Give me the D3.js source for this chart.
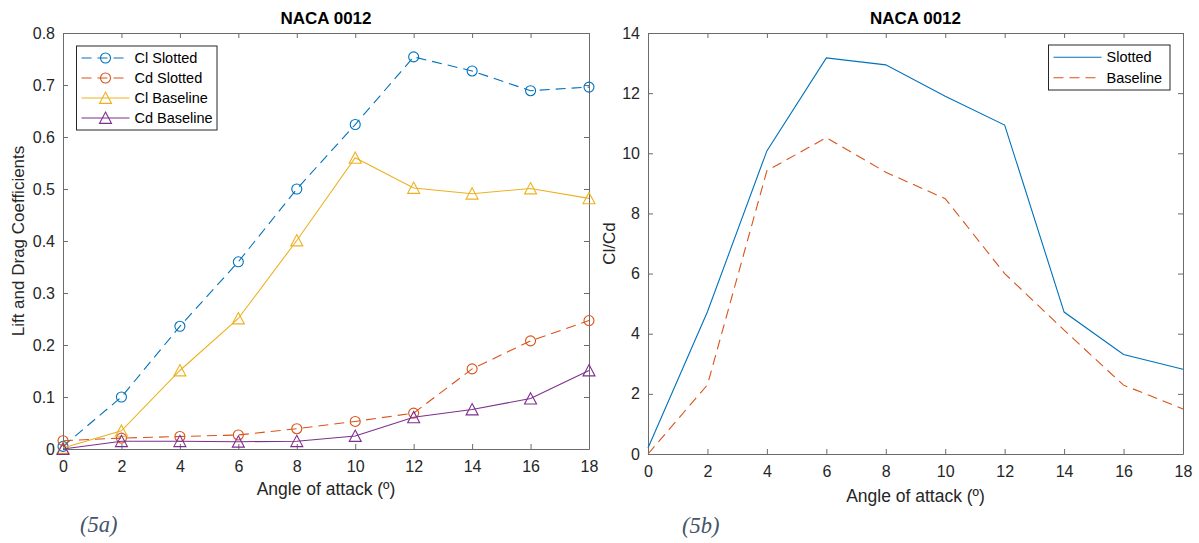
<!DOCTYPE html>
<html><head><meta charset="utf-8">
<script src="https://cdn.jsdelivr.net/npm/d3@7"></script>
<style>body{margin:0;background:#fff}svg{display:block}</style>
</head><body>
<svg id="c" width="1199" height="543"></svg>
<script>
const angles = [0,2,4,6,8,10,12,14,16,18];
const clSlotted   = [0.005,0.100,0.236,0.360,0.500,0.624,0.754,0.727,0.689,0.696];
const cdSlotted   = [0.016,0.021,0.024,0.027,0.039,0.053,0.069,0.154,0.208,0.247];
const clBaseline  = [0.002,0.035,0.151,0.251,0.401,0.560,0.502,0.491,0.501,0.482];
const cdBaseline  = [0.000,0.015,0.015,0.014,0.015,0.025,0.061,0.076,0.097,0.151];
const ldSlotted   = [0.2,4.73,10.08,13.17,12.94,11.9,10.94,4.72,3.31,2.82];
const ldBaseline  = [0.0,2.3,9.42,10.52,9.37,8.49,6.0,4.12,2.29,1.5];
const xTicks = [0,2,4,6,8,10,12,14,16,18];
const yTicksA = [0,0.1,0.2,0.3,0.4,0.5,0.6,0.7,0.8];
const yTicksB = [0,2,4,6,8,10,12,14];
const title = "NACA 0012";
const xLabel = "Angle of attack (º)";

const C = {blue:"#0072BD", orange:"#D95319", yellow:"#EDB120", purple:"#7E2F8E"};
const FONT = "'Liberation Sans', Arial, Helvetica, sans-serif";
const AX = "#6b6b6b";
const TXT = "#262626";
const svg = d3.select("#c");

function styleAxis(s, withText){
  s.select(".domain").attr("stroke",AX);
  s.selectAll("line").attr("stroke",AX);
  if(withText) s.selectAll("text").attr("font-family",FONT).attr("font-size",16).attr("fill",TXT);
}

function panel(o){
  const g = svg.append("g");
  const x = d3.scaleLinear().domain([0,18]).range([o.l,o.r]);
  const y = d3.scaleLinear().domain(o.ydom).range([o.b,o.t]);
  const tl = 5;
  g.append("g").attr("transform",`translate(0,${o.b})`)
    .call(d3.axisBottom(x).tickValues(xTicks).tickSizeInner(-tl).tickSizeOuter(0).tickPadding(12))
    .call(s=>styleAxis(s,true));
  g.append("g").attr("transform",`translate(${o.l},0)`)
    .call(d3.axisLeft(y).tickValues(o.yTicks).tickFormat(o.fmt).tickSizeInner(-tl).tickSizeOuter(0).tickPadding(8))
    .call(s=>styleAxis(s,true));
  g.append("g").attr("transform",`translate(0,${o.t})`)
    .call(d3.axisTop(x).tickValues(xTicks).tickFormat("").tickSizeInner(-tl).tickSizeOuter(0))
    .call(s=>styleAxis(s,false));
  g.append("g").attr("transform",`translate(${o.r},0)`)
    .call(d3.axisRight(y).tickValues(o.yTicks).tickFormat("").tickSizeInner(-tl).tickSizeOuter(0))
    .call(s=>styleAxis(s,false));
  g.append("text").attr("x",(o.l+o.r)/2).attr("y",o.t-9).attr("text-anchor","middle")
    .attr("font-family",FONT).attr("font-weight","bold").attr("font-size",17).attr("fill","#000").text(title);
  g.append("text").attr("x",(o.l+o.r)/2).attr("y",o.b+o.xlOff).attr("text-anchor","middle")
    .attr("font-family",FONT).attr("font-size",17.5).attr("fill",TXT).text(xLabel);
  g.append("text").attr("transform",`translate(${o.ylx},${(o.t+o.b)/2}) rotate(-90)`).attr("text-anchor","middle")
    .attr("font-family",FONT).attr("font-size",17).attr("fill",TXT).text(o.ylabel);
  return {g,x,y};
}

function tri(cx,cy,s){ const h=s*0.9; return `M${cx},${cy-h/2-0.5}L${cx+s/2},${cy+h/2}L${cx-s/2},${cy+h/2}Z`; }

function series(p,vals,color,dash,marker){
  const line = d3.line().x((d,i)=>p.x(angles[i])).y(d=>p.y(d));
  p.g.append("path").datum(vals).attr("d",line).attr("fill","none").attr("stroke",color)
    .attr("stroke-width",1.1).attr("stroke-dasharray",dash||null);
  if(marker==="o"){
    p.g.selectAll(null).data(vals).enter().append("circle").attr("cx",(d,i)=>p.x(angles[i])).attr("cy",d=>p.y(d))
      .attr("r",5).attr("fill","none").attr("stroke",color).attr("stroke-width",1.1);
  } else if(marker==="^"){
    p.g.selectAll(null).data(vals).enter().append("path").attr("d",(d,i)=>tri(p.x(angles[i]),p.y(d),12))
      .attr("fill","none").attr("stroke",color).attr("stroke-width",1.1);
  }
}

function legend(g,x0,y0,w,rowH,items){
  const h = items.length*rowH+4;
  g.append("rect").attr("x",x0).attr("y",y0).attr("width",w).attr("height",h).attr("fill","#fff").attr("stroke","#262626").attr("stroke-width",1);
  items.forEach((it,i)=>{
    const cy = y0+2+rowH*(i+0.5);
    g.append("line").attr("x1",x0+5).attr("x2",x0+53).attr("y1",cy).attr("y2",cy).attr("stroke",it.c).attr("stroke-width",1.1).attr("stroke-dasharray",it.d||null);
    if(it.m==="o") g.append("circle").attr("cx",x0+29).attr("cy",cy).attr("r",5).attr("fill","none").attr("stroke",it.c).attr("stroke-width",1.1);
    if(it.m==="^") g.append("path").attr("d",tri(x0+29,cy,12)).attr("fill","none").attr("stroke",it.c).attr("stroke-width",1.1);
    g.append("text").attr("x",x0+58).attr("y",cy+5).attr("font-family",FONT).attr("font-size",14.5).attr("fill","#000").text(it.t);
  });
}

const pA = panel({l:63,r:589,t:33,b:449,ydom:[0,0.8],yTicks:yTicksA,fmt:d=>d===0?"0":d3.format(".1f")(d),ylabel:"Lift and Drag Coefficients",ylx:24,xlOff:46});
series(pA,clSlotted,C.blue,"10,6","o");
series(pA,cdSlotted,C.orange,"10,6","o");
series(pA,clBaseline,C.yellow,null,"^");
series(pA,cdBaseline,C.purple,null,"^");
legend(pA.g,76.5,46,140.5,20,[
  {t:"Cl Slotted",c:C.blue,d:"10,6",m:"o"},
  {t:"Cd Slotted",c:C.orange,d:"10,6",m:"o"},
  {t:"Cl Baseline",c:C.yellow,m:"^"},
  {t:"Cd Baseline",c:C.purple,m:"^"}]);

const pB = panel({l:648,r:1183,t:33,b:454,ydom:[0,14],yTicks:yTicksB,fmt:d3.format("d"),ylabel:"Cl/Cd",ylx:615,xlOff:48});
series(pB,ldSlotted,C.blue,null,null);
series(pB,ldBaseline,C.orange,"10,6",null);
legend(pB.g,1048.5,45,121.5,20.5,[
  {t:"Slotted",c:C.blue},
  {t:"Baseline",c:C.orange,d:"10,6"}]);

svg.append("text").attr("x",80).attr("y",532).attr("font-family","'Liberation Serif','DejaVu Serif',serif").attr("font-style","italic").attr("font-size",22.5).attr("fill","#44546A").text("(5a)");
svg.append("text").attr("x",682).attr("y",533).attr("font-family","'Liberation Serif','DejaVu Serif',serif").attr("font-style","italic").attr("font-size",22.5).attr("fill","#44546A").text("(5b)");
</script>
</body></html>
